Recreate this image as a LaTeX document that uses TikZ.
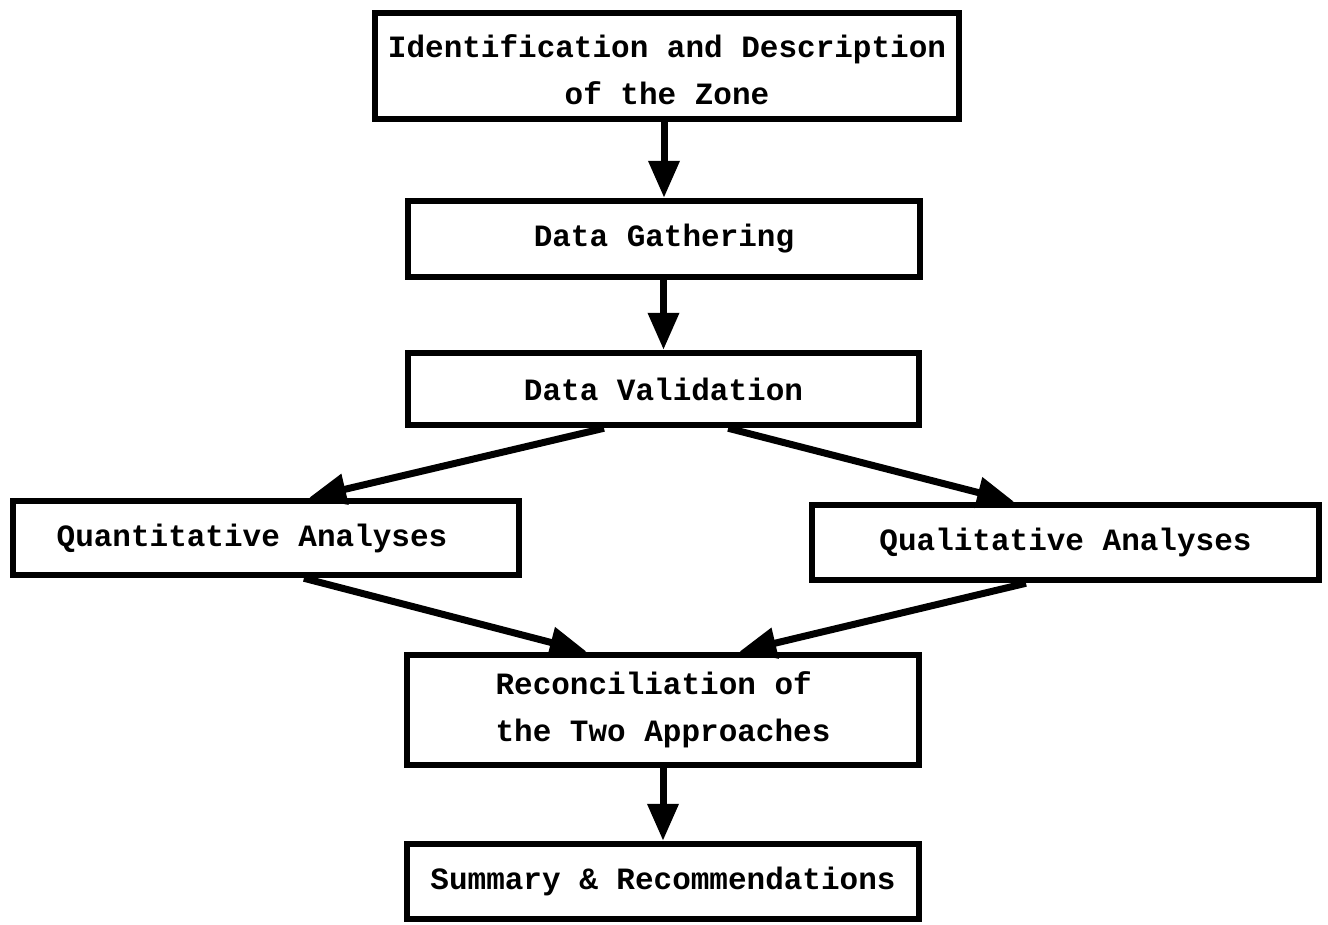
\documentclass[tikz,border=0pt]{standalone}
\usepackage{fontspec}
\setmonofont{Liberation Mono}
\usetikzlibrary{arrows.meta,calc}
\begin{document}
\begin{tikzpicture}[x=1pt,y=-1pt,
  box/.style={draw=black,line width=6.5pt,fill=white,inner sep=0pt,
    font=\ttfamily\bfseries\fontsize{31}{47}\selectfont,align=center},
  arr/.style={line width=7pt,-{Triangle[length=37pt,width=30pt]}}]
\useasboundingbox (0,0) rectangle (1328,924);
\fill[white] (0,0) rectangle (1328,924);
\node[box,minimum width=584pt,minimum height=106pt] (b1) at (667,66) {\rule{0pt}{30pt}Identification and Description\\of the Zone};
\node[box,minimum width=512pt,minimum height=76pt] (b2) at (664,239) {Data Gathering};
\node[box,minimum width=511pt,minimum height=72pt] (b3) at (663.5,389) {Data Validation};
\node[box,minimum width=506pt,minimum height=74pt] (b4) at (266,538) {Quantitative Analyses\hspace*{28pt}};
\node[box,minimum width=507pt,minimum height=75pt] (b5) at (1065.5,542.5) {Qualitative Analyses};
\node[box,minimum width=512pt,minimum height=110pt] (b6) at (663,710) {Reconciliation of\hspace*{0.6em}\\the Two Approaches};
\node[box,minimum width=512pt,minimum height=75pt] (b7) at (663,881.5) {Summary \& Recommendations};
\draw[arr] (b2.north |- b1.south) -- (b2.north);
\draw[arr] (b3.north |- b2.south) -- (b3.north);
\draw[arr] ($(b3.south west)!0.385!(b3.south east)$) -- ($(b4.north west)!0.584!(b4.north east)$);
\draw[arr] ($(b3.south west)!0.625!(b3.south east)$) -- ($(b5.north west)!0.40!(b5.north east)$);
\draw[arr] ($(b4.south west)!0.574!(b4.south east)$) -- ($(b6.north west)!0.353!(b6.north east)$);
\draw[arr] ($(b5.south west)!0.423!(b5.south east)$) -- ($(b6.north west)!0.647!(b6.north east)$);
\draw[arr] (b7.north |- b6.south) -- (b7.north);
\end{tikzpicture}
\end{document}
